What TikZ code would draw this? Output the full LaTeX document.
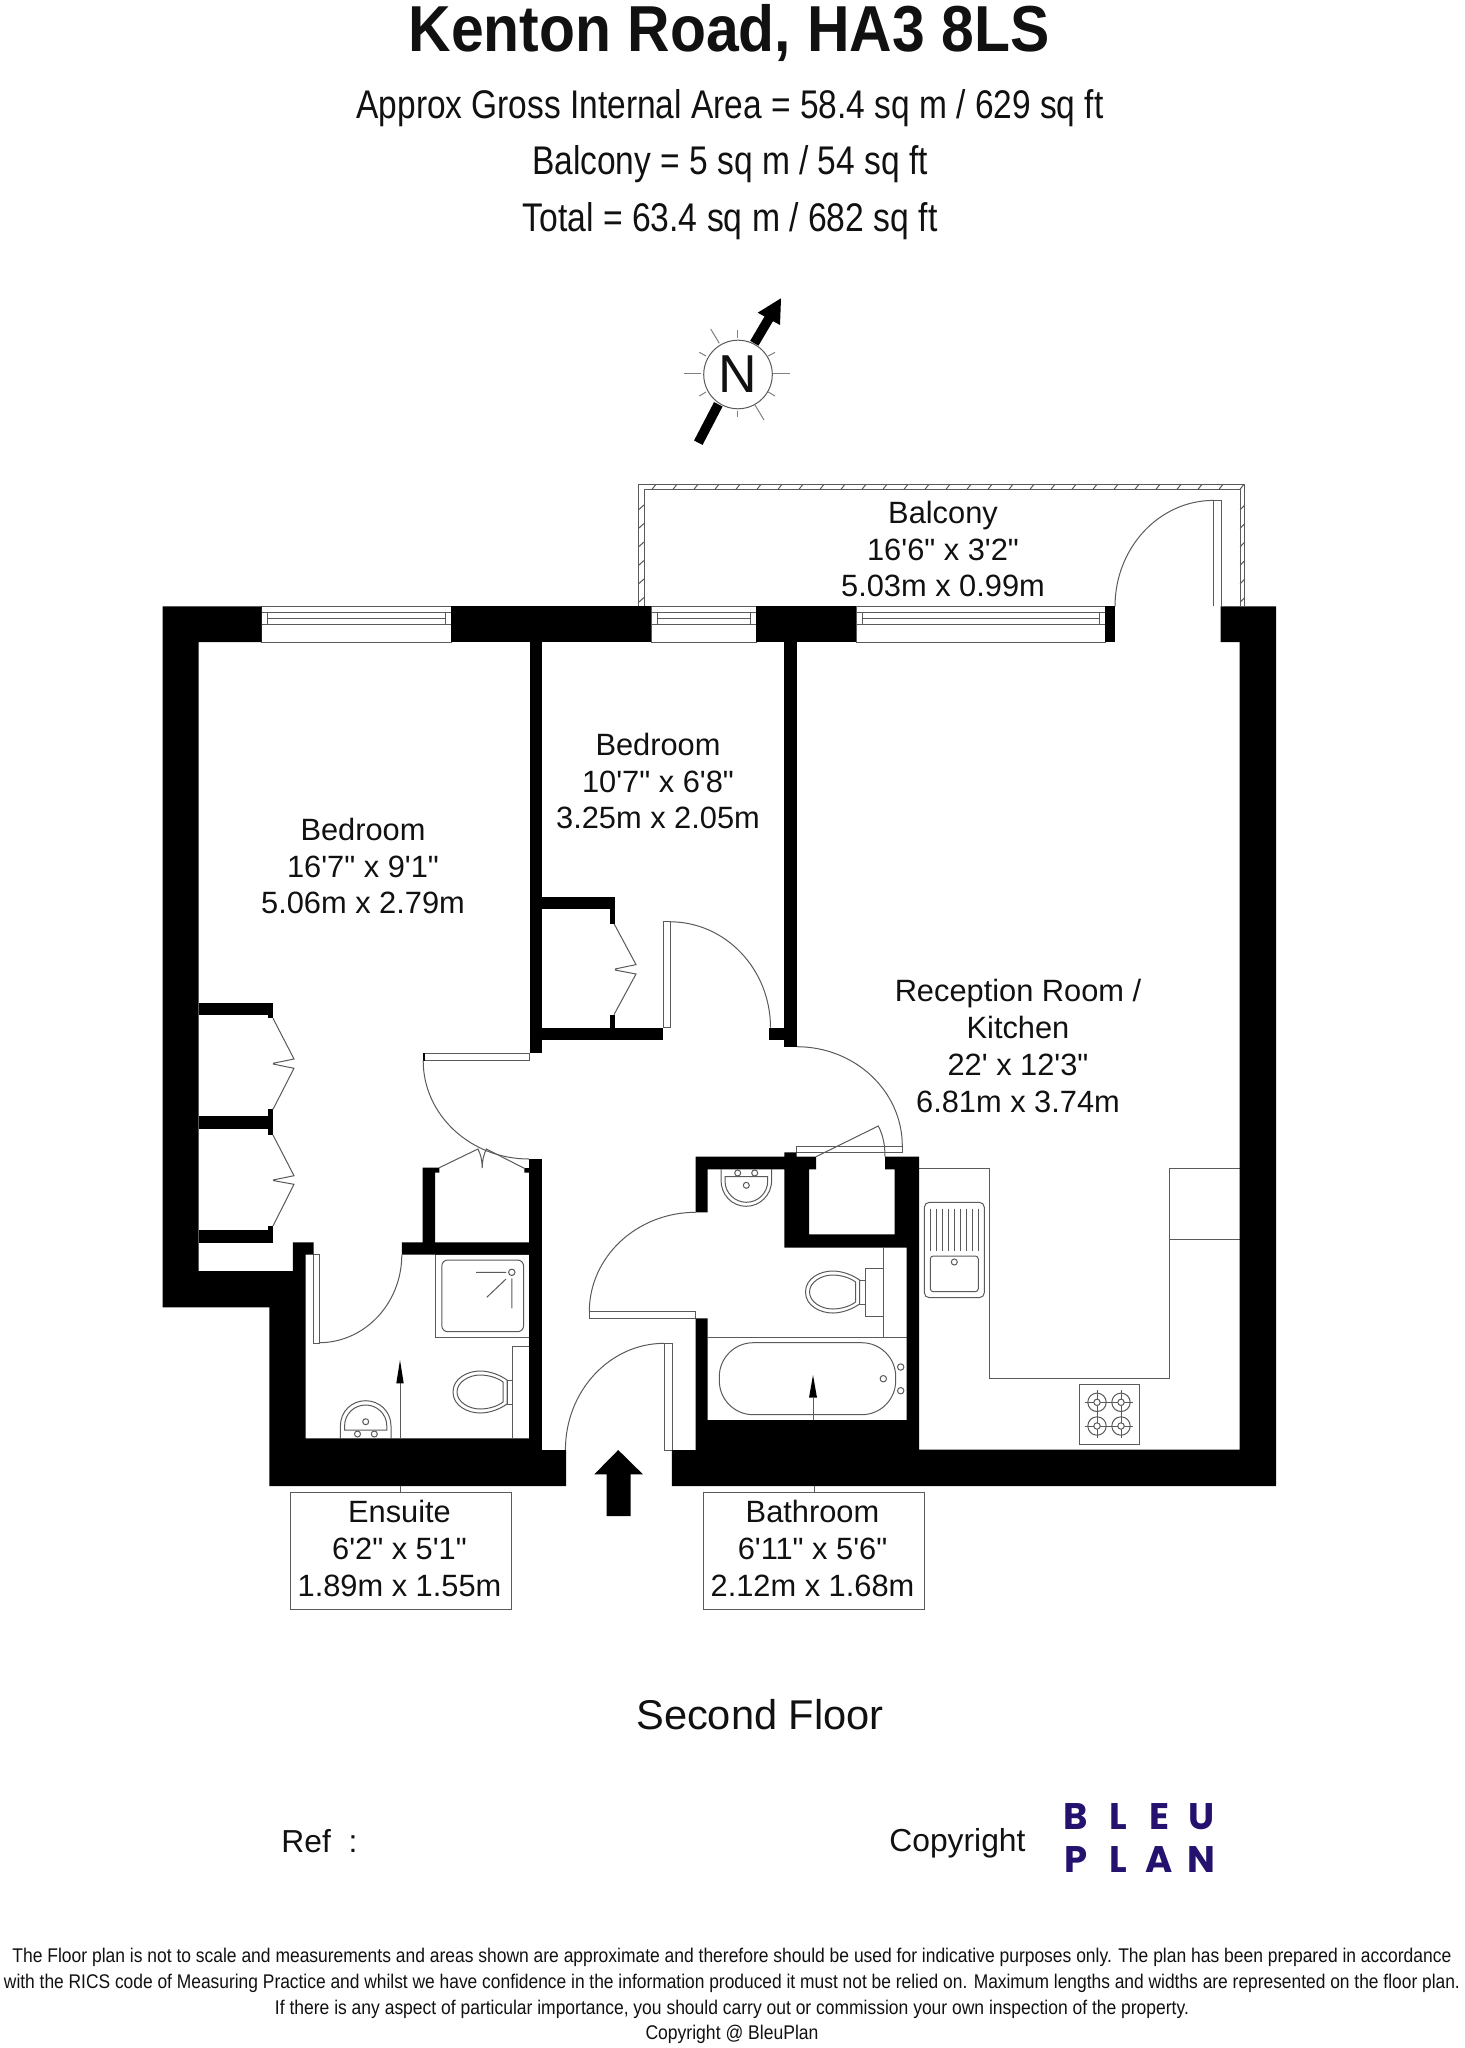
\documentclass[tikz,border=0pt]{standalone}
\usepackage{fontspec}
\usepackage{graphicx}
\setmainfont{Liberation Sans}
\newfontfamily\logofont{Poppins}
\usetikzlibrary{calc}
\definecolor{inkc}{HTML}{111111}
\definecolor{thinc}{HTML}{5A5A5A}
\definecolor{logoc}{HTML}{24126E}
\newcommand\ft{\textquotesingle}
\newcommand\inch{\textquotedbl}
\newcommand\fitw[2]{\resizebox{#1}{\height}{#2}}
\newcommand\qarc[3]{\draw[thinl] (#1) .. controls ($(#1)!0.5523!(#3)$) and ($(#2)!0.5523!(#3)$) .. (#2);}
\newcommand\winz[2]{%
  \draw[thinl] (#1,606.4) rectangle (#2,642);
  \draw[thinl] (#1,612) -- (#2,612) (#1,624) -- (#2,624);
  \draw[thinl] ($(#1,612)+(6,0)$) rectangle ($(#2,618)+(-6,0)$);
  \draw[thinl] ($(#1,618)+(6,0)$) -- ($(#1,624)+(6,0)$) ($(#2,618)+(-6,0)$) -- ($(#2,624)+(-6,0)$);
}
\newcommand\wcbowl[2]{%
  \begin{scope}[shift={(#1,#2)}]
    \draw[thinl] (-27,0) .. controls (-27,-14) and (-12,-21) .. (0,-21) .. controls (10,-21) and (20,-17) .. (27,-12) -- (27,12) .. controls (20,17) and (10,21) .. (0,21) .. controls (-12,21) and (-27,14) .. (-27,0) -- cycle;
    \draw[thinl] (-23,0) .. controls (-23,-10) and (-11,-17) .. (0,-17) .. controls (9,-17) and (18,-14) .. (23,-10) -- (23,10) .. controls (18,14) and (9,17) .. (0,17) .. controls (-11,17) and (-23,10) .. (-23,0) -- cycle;
  \end{scope}}
\newcommand\burner[2]{%
  \draw[thinl] (#1,#2) circle[radius=4.6pt] (#1,#2) circle[radius=1.6pt];
  \draw[thinl] ($(#1,#2)+(-12,0)$) -- ($(#1,#2)+(-3,0)$) ($(#1,#2)+(3,0)$) -- ($(#1,#2)+(12,0)$)
               ($(#1,#2)+(0,-12)$) -- ($(#1,#2)+(0,-3)$) ($(#1,#2)+(0,3)$) -- ($(#1,#2)+(0,12)$);}
\tikzset{
  thinl/.style={draw=thinc,line width=0.5pt},
  wall/.style={fill=black,draw=none},
  roomlabel/.style={font=\fontsize{15.4}{18.4}\selectfont,text=inkc,align=center,inner sep=0pt},
  headline/.style={text=inkc,inner sep=0pt},
  logoletter/.style={font=\logofont\bfseries\fontsize{18.5}{18.5}\selectfont,text=logoc,inner sep=0pt},
  foot/.style={text=inkc,inner sep=0pt,font=\fontsize{9.9}{12}\selectfont},
  labelbox/.style={draw=thinc,line width=0.5pt,minimum width=110.4pt,minimum height=58.2pt,inner sep=0pt},
  pointer/.style={thinl},
}
\begin{document}
\begin{tikzpicture}[x=0.5pt,y=-0.5pt]
\useasboundingbox (0,0) rectangle (1464,2048);
\fill[white] (0,0) rectangle (1464,2048);

% headings
\node[headline,font=\bfseries\fontsize{32.5}{36}\selectfont] (title) at (729,33) {\fitw{320.5pt}{Kenton Road, HA3 8LS}};
\node[headline,font=\fontsize{20}{24}\selectfont] (area) at (730,108.5) {\fitw{373.5pt}{Approx Gross Internal Area = 58.4 sq m / 629 sq ft}};
\node[headline,font=\fontsize{20}{24}\selectfont] (balc) at (730,164.6) {\fitw{198pt}{Balcony = 5 sq m / 54 sq ft}};
\node[headline,font=\fontsize{20}{24}\selectfont] (total) at (730,220.8) {\fitw{207.5pt}{Total = 63.4 sq m / 682 sq ft}};

% compass
\draw[line width=4.8pt,black] (698.3,442.7) -- (718.3,404.3);
\draw[line width=4.8pt,black] (754.3,343.3) -- (770,316.7);
\fill[black] (781,298.3) -- (757.7,312.7) -- (780,325) -- cycle;
\node[circle,draw=thinc,line width=0.5pt,minimum size=34.3pt,inner sep=0pt,fill=white,font=\fontsize{26.7}{28}\selectfont,text=inkc] (north) at (738,374.5) {N};
\foreach \ax/\ay/\bx/\by in {710.7/329/719.3/343.3,737.3/330.3/737.3/337.7,699.3/352.3/706/356,684.3/373.7/701/373.7,699.3/396/706/392,737.3/410.7/737.3/417.3,755/405/764/420,768.3/392/775/396,773.3/373.7/790/373.7,768.3/356/775/352.3}
  \draw[thinl,draw=gray] (\ax,\ay) -- (\bx,\by);

% balcony
\draw[thinl] (638.4,606.4) -- (638.4,484.3) -- (1244.8,484.3) -- (1244.8,606.4);
\draw[thinl] (644,606.4) -- (644,489.3) -- (1240,489.3) -- (1240,606.4);
\foreach \i in {0,...,28} \draw[thinl] ({652+\i*21},489.3) -- ({656+\i*21},484.3);
\foreach \i in {0,...,5} {
  \draw[thinl] (638.4,{510+\i*18.5}) -- (644,{505+\i*18.5});
  \draw[thinl] (1240,{510+\i*18.5}) -- (1244.8,{505+\i*18.5});
}
\draw[thinl] (1213.5,606.4) -- (1213.5,500.4) -- (1221.4,500.4) -- (1221.4,606.4);
\qarc{1115,606.4}{1213.5,500.4}{1115,500.4}

% windows
\winz{261.6}{451}
\winz{651}{756}
\winz{856.4}{1105}

% doors
\draw[thinl] (663.4,921.8) rectangle (670,1027.7);
\qarc{670,921.8}{770.5,1027.7}{770.5,921.8}
\draw[thinl] (796.7,1146) rectangle (902.3,1152.7);
\qarc{796.7,1046.7}{902.3,1146}{902.3,1046.7}
\draw[thinl] (423.2,1053.3) rectangle (529.6,1060.7);
\qarc{423.2,1060.7}{529,1159}{423.2,1159}
\draw[thinl] (313.6,1254.7) rectangle (319,1343.3);
\qarc{319,1342.7}{401.8,1254.7}{401.8,1342.7}
\draw[thinl] (664.3,1343.3) rectangle (672,1450);
\qarc{565.4,1450}{664.3,1343.3}{565.4,1343.3}
\draw[thinl] (589.3,1311.7) rectangle (695.7,1318.3);
\qarc{695.7,1212.3}{589.3,1311.7}{589.3,1212.3}
\draw[thinl] (816,1156.7) -- (878.3,1126) .. controls (883,1135) and (885,1145) .. (885,1156.7);

% folding wardrobe doors
\draw[thinl] (614,923.6) -- (636,964.6) -- (615,969) (615,970) -- (636,974) -- (614,1014.6);
\draw[thinl] (273,1018.3) -- (294,1059) -- (273,1063.3) (273,1064) -- (294,1068.3) -- (273,1109.3);
\draw[thinl] (273,1135) -- (294,1175.7) -- (273,1180) (273,1180.5) -- (294,1184.3) -- (273,1226);
\draw[thinl] (439.3,1167.7) -- (477.9,1149) .. controls (481,1155) and (482,1160) .. (482.2,1168) .. controls (482.4,1160) and (483.5,1155) .. (486.4,1149) -- (524.3,1168.3);

% shower
\draw[thinl] (435.7,1254.7) rectangle (529,1337);
\draw[thinl,rounded corners=3pt] (441.8,1260) rectangle (523.6,1331.7);
\draw[thinl] (511.8,1272.3) circle[radius=1.6pt];
\draw[thinl] (476,1272.3) -- (506,1272.3) (511.8,1278.3) -- (511.8,1308.3) (506,1279) -- (486.8,1297.3);

% ensuite WC and basin
\draw[thinl] (529,1346) -- (512.5,1346) -- (512.5,1438.3);
\draw[thinl] (507,1380) rectangle (512.5,1404);
\wcbowl{480}{1392}
\draw[thinl] (340.4,1438.3) -- (340.4,1426) .. controls (340.4,1411) and (352,1400.7) .. (365.7,1400.7) .. controls (379,1400.7) and (391,1411) .. (391,1426) -- (391,1438.3);
\draw[thinl] (344.6,1430) -- (344.6,1426) .. controls (344.6,1414) and (354,1405) .. (365.7,1405) .. controls (377,1405) and (386.8,1414) .. (386.8,1426) -- (386.8,1430) -- cycle;
\draw[thinl] (365.7,1421.7) circle[radius=1.5pt] (357.5,1434) circle[radius=1.5pt] (374.3,1434) circle[radius=1.5pt];

% bathroom fittings
\draw[thinl] (721,1169.3) -- (721,1180) .. controls (721,1195) and (732,1206.3) .. (746.3,1206.3) .. controls (760,1206.3) and (771.7,1195) .. (771.7,1180) -- (771.7,1169.3);
\draw[thinl] (725,1176.7) -- (725,1181) .. controls (725,1193) and (735,1202.3) .. (746.3,1202.3) .. controls (758,1202.3) and (767.7,1193) .. (767.7,1181) -- (767.7,1176.7) -- cycle;
\draw[thinl] (746.3,1185.3) circle[radius=1.5pt] (737.7,1173) circle[radius=1.5pt] (754.7,1173) circle[radius=1.5pt];
\draw[thinl] (883.3,1247.7) -- (883.3,1336.7);
\draw[thinl] (865,1268.3) rectangle (883.3,1316);
\draw[thinl] (859.3,1280) rectangle (865,1304);
\wcbowl{832.5}{1292}
\draw[thinl] (707.7,1337.3) -- (906.7,1337.3);
\draw[thinl,rounded corners=17pt] (719.3,1342.7) rectangle (895.7,1414.7);
\draw[thinl] (883.3,1378.7) circle[radius=1.6pt] (900.7,1367) circle[radius=1.6pt] (900.7,1390.7) circle[radius=1.6pt];

% kitchen
\draw[thinl] (919,1168.7) -- (989.7,1168.7) -- (989.7,1378.7) -- (1169,1378.7) -- (1169,1168.7) -- (1239.7,1168.7);
\draw[thinl] (1169,1239) -- (1239.7,1239);
\draw[thinl,rounded corners=2.5pt] (924.3,1202.3) rectangle (984.3,1297.7);
\draw[thinl,rounded corners=1.5pt] (930.3,1256) rectangle (978.3,1291.7);
\draw[thinl] (954.3,1262) circle[radius=1.5pt];
\foreach \i in {0,...,8} \draw[thinl] ({930.3+\i*6},1208.7) -- ({930.3+\i*6},1250.7);
\draw[thinl] (1079.3,1384.7) rectangle (1139,1444);
\burner{1097}{1402.3}
\burner{1121}{1402.3}
\burner{1097}{1426}
\burner{1121}{1426}

% walls
\fill[wall] (162.5,606.4) -- (261.6,606.4) -- (261.6,642) -- (198.6,642) -- (198.6,1271) -- (292.9,1271) -- (292.9,1242.3) -- (313.6,1242.3) -- (313.6,1254.7) -- (305.7,1254.7) -- (305.7,1438.3) -- (529,1438.3) -- (529,1254.7) -- (401.8,1254.7) -- (401.8,1242.3) -- (422.5,1242.3) -- (422.5,1167.7) -- (439.3,1167.7) -- (439.3,1172.7) -- (435,1172.7) -- (435,1242.3) -- (529,1242.3) -- (529,1172.7) -- (524.3,1172.7) -- (524.3,1168) -- (529,1168) -- (529,1159) -- (541.8,1159) -- (541.8,1450) -- (566,1450) -- (566,1486) -- (269.3,1486) -- (269.3,1307.3) -- (162.5,1307.3) -- cycle;
\fill[wall] (451,606.4) rectangle (651,642);
\fill[wall] (756,606.4) rectangle (856.4,642);
\fill[wall] (1105,606.4) rectangle (1115,642);
\fill[wall] (1220.7,606.4) -- (1276,606.4) -- (1276,1486) -- (671.8,1486) -- (671.8,1450) -- (695.7,1450) -- (695.7,1318.3) -- (707.7,1318.3) -- (707.7,1420) -- (906.7,1420) -- (906.7,1247.7) -- (784.3,1247.7) -- (784.3,1169.3) -- (707.7,1169.3) -- (707.7,1212.3) -- (695.7,1212.3) -- (695.7,1156.7) -- (784.3,1156.7) -- (784.3,1152.3) -- (796.7,1152.3) -- (796.7,1156.7) -- (816,1156.7) -- (816,1169.3) -- (809,1169.3) -- (809,1234.3) -- (894.7,1234.3) -- (894.7,1169.3) -- (885,1169.3) -- (885,1156.7) -- (919,1156.7) -- (919,1449.7) -- (1239.7,1449.7) -- (1239.7,642) -- (1220.7,642) -- cycle;
\fill[wall] (529.5,642) rectangle (541.8,1053.3);
\fill[wall] (541.8,897) rectangle (615,909);
\fill[wall] (610,909) rectangle (615,923.6);
\fill[wall] (609.6,1015) rectangle (615.4,1027.7);
\fill[wall] (541.8,1027.7) rectangle (663,1040);
\fill[wall] (784,642) rectangle (796.6,1046.7);
\fill[wall] (769,1027.7) rectangle (784,1040);
\fill[wall] (198.6,1002.7) rectangle (273,1015);
\fill[wall] (268,1015) rectangle (273,1018.3);
\fill[wall] (198.6,1116.3) rectangle (268,1129);
\fill[wall] (268,1109.3) rectangle (273,1135);
\fill[wall] (198.6,1230.3) rectangle (273,1243);
\fill[wall] (268,1226) rectangle (273,1230.3);
\fill[wall] (423.2,1053.3) rectangle (424.6,1060.7);

% entrance arrow
\fill[black] (618.2,1450) -- (642.9,1474.3) -- (630.6,1474.3) -- (630.6,1516) -- (606.6,1516) -- (606.6,1474.3) -- (594.3,1474.3) -- cycle;

% room labels
\node[roomlabel] (rbalcony) at (943,549) {Balcony\\16\ft6\inch{} x 3\ft2\inch\\5.03m x 0.99m};
\node[roomlabel] (rbed1) at (363,866) {Bedroom\\16\ft7\inch{} x 9\ft1\inch\\5.06m x 2.79m};
\node[roomlabel] (rbed2) at (658,781) {Bedroom\\10\ft7\inch{} x 6\ft8\inch\\3.25m x 2.05m};
\node[roomlabel] (rrecep) at (1018,1046) {Reception Room /\\Kitchen\\22\ft{} x 12\ft3\inch\\6.81m x 3.74m};
\node[labelbox] (rens) at (400.8,1551) {};
\node[labelbox] (rbath) at (814,1551) {};
\node[roomlabel] (rensuite) at (399.5,1548.4) {Ensuite\\6\ft2\inch{} x 5\ft1\inch\\1.89m x 1.55m};
\node[roomlabel] (rbathroom) at (812.5,1548.4) {Bathroom\\6\ft11\inch{} x 5\ft6\inch\\2.12m x 1.68m};

% pointers from labels into rooms
\coordinate (ensend) at (400,1438.3);
\coordinate (ensbase) at (400,1383.3);
\coordinate (bathend) at (813,1420);
\coordinate (bathbase) at (813,1397.7);
\draw[pointer] (rens.north) -- ($(rens.north)+(0,-6.7)$);
\draw[pointer] (ensend) -- (ensbase);
\fill[black] (400,1360) -- (403.7,1383.3) -- (396.3,1383.3) -- cycle;
\draw[pointer] (rbath.north) -- ($(rbath.north)+(0,-6.7)$);
\draw[pointer] (bathend) -- (bathbase);
\fill[black] (813,1375) -- (817,1397.7) -- (809,1397.7) -- cycle;

% lower captions
\node[headline,font=\fontsize{20.8}{24}\selectfont] (floor) at (760,1715) {Second Floor};
\node[headline,anchor=west,font=\fontsize{15.9}{18}\selectfont] (ref) at (281,1841) {Ref\ \ :};
\node[headline,anchor=west,font=\fontsize{15.9}{18}\selectfont] (copy) at (889,1843.5) {Copyright};

% logo
\node[logoletter] (lb) at (1076,1816.3) {B};
\node[logoletter] (ll) at (1118.5,1816.3) {L};
\node[logoletter] (le) at (1159,1816.3) {E};
\node[logoletter] (lu) at (1201.7,1816.3) {U};
\node[logoletter] (lp) at (1076,1859.8) {P};
\node[logoletter] (ll2) at (1118.5,1859.8) {L};
\node[logoletter] (la) at (1158.7,1859.8) {A};
\node[logoletter] (ln) at (1201.7,1859.8) {N};

% footer
\node[foot] (f1) at (732,1957) {\fitw{719.5pt}{The Floor plan is not to scale and measurements and areas shown are approximate and therefore should be used for indicative purposes only. The plan has been prepared in accordance}};
\node[foot] (f2) at (732,1983) {\fitw{728pt}{with the RICS code of Measuring Practice and whilst we have confidence in the information produced it must not be relied on. Maximum lengths and widths are represented on the floor plan.}};
\node[foot] (f3) at (732,2009) {\fitw{457pt}{If there is any aspect of particular importance, you should carry out or commission your own inspection of the property.}};
\node[foot] (f4) at (732,2034) {\fitw{86.5pt}{Copyright @ BleuPlan}};
\end{tikzpicture}
\end{document}
